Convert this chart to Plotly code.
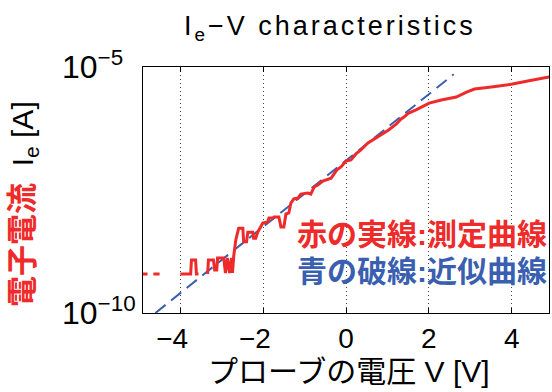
import plotly.graph_objects as go

# Measured electron current vs probe voltage (None marks missing samples)
meas_v = [-4.92, -4.79, None,
          -4.65, -4.50, None,
          -4.00, -3.75, -3.73, -3.63, -3.61, -3.56, None,
          -3.34, -3.32, -3.20, -3.17, -3.12, -3.10, -2.95, -2.91, -2.86, -2.81,
          -2.76, -2.74, -2.71, -2.66, -2.62, -2.59, -2.49, -2.47, -2.40, -2.37,
          -2.25, -2.23, -2.18, -2.13, -2.01, -1.89, -1.86, -1.77, -1.74, -1.62,
          -1.57, -1.50, -1.45, -1.38, -1.33, -1.26, -1.16, -1.09, -0.92, -0.85,
          -0.77, -0.68, -0.56, -0.36, -0.22, -0.12, 0.00, 0.12, 0.24, 0.36,
          0.53, 0.77, 1.02, 1.21, 1.33, 1.40, 1.50, 1.69, 2.01, 2.30, 2.66,
          2.91, 3.10, 3.51, 4.02, 4.48, 4.92]
meas_i = [6.2e-10, 6.2e-10, None,
          6.2e-10, 6.2e-10, None,
          6.2e-10, 6.2e-10, 1.19e-9, 1.19e-9, 6.2e-10, 6.2e-10, None,
          6.2e-10, 1.2e-9, 1.2e-9, 7.5e-10, 7.5e-10, 1.31e-9, 1.31e-9, 6.5e-10, 1.31e-9, 6.5e-10,
          1.31e-9, 6.5e-10, 1.44e-9, 3.05e-9, 4.2e-9, 5.3e-9, 5.3e-9, 2.8e-9, 2.8e-9, 4.4e-9,
          4.4e-9, 3.3e-9, 3.3e-9, 4.4e-9, 6.7e-9, 7.1e-9, 8.5e-9, 8.5e-9, 8.9e-9, 8.9e-9,
          5.6e-9, 5.6e-9, 1.03e-8, 1.08e-8, 1.72e-8, 2.08e-8, 2.17e-8, 2.62e-8, 2.75e-8, 2.62e-8,
          3.64e-8, 4.0e-8, 4.8e-8, 5.5e-8, 8.1e-8, 9.3e-8, 1.23e-7, 1.29e-7, 1.71e-7, 2.06e-7,
          2.85e-7, 3.78e-7, 5.2e-7, 6.9e-7, 8.8e-7, 9.6e-7, 1.14e-6, 1.34e-6, 1.85e-6, 2.13e-6, 2.45e-6,
          3.1e-6, 3.57e-6, 3.92e-6, 4.5e-6, 5.4e-6, 6.3e-6]

# Exponential fit (straight line on the log axis)
fit_v = [-4.6, 2.6]
fit_i = [1.0e-10, 7.1e-6]

x_ticks = [-4, -2, 0, 2, 4]
x_tick_text = ['−4<span style="color:rgba(0,0,0,0)">−</span>',
               '−2<span style="color:rgba(0,0,0,0)">−</span>',
               '0', '2', '4']
y_ticks = [1e-10, 1e-5]
y_tick_text = ['10<sup>−10</sup>',
               '10<sup>−5<span style="color:rgba(0,0,0,0)">0</span></sup>']

RED = "#ee2a2a"
BLUE = "#3a5fb0"
FONT = "Liberation Sans, Arial, Noto Sans CJK JP, sans-serif"

fig = go.Figure()
fig.add_trace(go.Scatter(x=fit_v, y=fit_i, mode="lines",
                         line=dict(color=BLUE, width=2, dash="13px,7px"),
                         showlegend=False, hoverinfo="skip"))
fig.add_trace(go.Scatter(x=meas_v, y=meas_i, mode="lines", connectgaps=False,
                         line=dict(color=RED, width=3),
                         showlegend=False, hoverinfo="skip"))

fig.update_layout(
    width=552, height=392,
    margin=dict(l=143, r=3, t=67, b=79),
    paper_bgcolor="white", plot_bgcolor="white",
    font=dict(family=FONT, color="black"),
    xaxis=dict(range=[-4.9, 4.9], tickvals=x_ticks, ticktext=x_tick_text,
               tickfont=dict(size=28), ticks="inside", ticklen=5,
               tickcolor="black", showline=True, linecolor="black",
               linewidth=1, mirror="ticks", showgrid=True,
               gridcolor="#444444", griddash="1px,3px", gridwidth=1,
               zeroline=False),
    yaxis=dict(type="log", range=[-10, -5], tickvals=y_ticks,
               ticktext=y_tick_text, tickfont=dict(size=32),
               ticks="inside", ticklen=5, tickcolor="black",
               showline=True, linecolor="black", linewidth=1,
               mirror="ticks", showgrid=True, gridcolor="#444444",
               griddash="1px,3px", zeroline=False),
)

# Chart title
fig.add_annotation(
    text='<span style="letter-spacing:3px">I<sub>e</sub>−V characteristics</span>',
    xref="paper", yref="paper", x=(330 - 143) / 406, y=(313 - 28) / 246,
    xanchor="center", yanchor="middle", showarrow=False,
    font=dict(size=27, family=FONT, color="black"))

# Axis titles
fig.add_annotation(
    text=('<b><span style="color:%s;font-size:31px">電子電流</span></b>'
          '  I<sub>e</sub> [A]') % RED,
    xref="paper", yref="paper", x=(24 - 143) / 406, y=(313 - 204) / 246,
    xanchor="center", yanchor="middle", textangle=-90, showarrow=False,
    font=dict(size=30, family=FONT, color="black"))
fig.add_annotation(
    text="プローブの電圧 V [V]",
    xref="paper", yref="paper", x=(349 - 143) / 406, y=(313 - 371) / 246,
    xanchor="center", yanchor="middle", showarrow=False,
    font=dict(size=30, family=FONT, color="black"))

# Legend text inside the plot
fig.add_annotation(
    text="<b>赤の実線:測定曲線</b>", xref="paper", yref="paper",
    x=1.0, y=(313 - 234) / 246, xanchor="right", yanchor="middle",
    showarrow=False, font=dict(size=30, family=FONT, color=RED))
fig.add_annotation(
    text="<b>青の破線:近似曲線</b>", xref="paper", yref="paper",
    x=1.0, y=(313 - 271.5) / 246, xanchor="right", yanchor="middle",
    showarrow=False, font=dict(size=30, family=FONT, color=BLUE))

fig.write_html("out.html")
